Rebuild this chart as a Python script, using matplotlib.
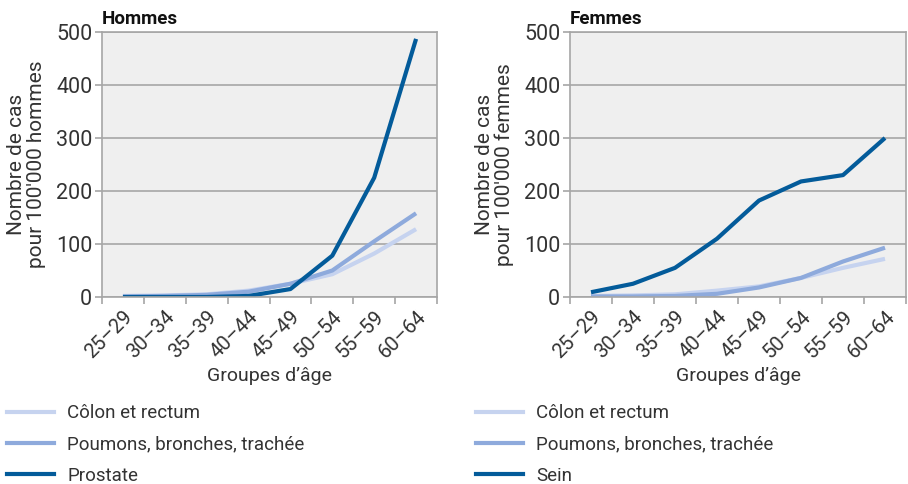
import matplotlib
matplotlib.use("Agg")
import matplotlib.pyplot as plt
from matplotlib.lines import Line2D
import numpy as np

plt.rcParams['font.family'] = ['Roboto', 'DejaVu Sans']

age_groups = ["25–29", "30–34", "35–39", "40–44", "45–49", "50–54", "55–59", "60–64"]

# Hommes
hommes_colon = [2, 3, 5, 12, 25, 43, 82, 128]
hommes_poumons = [1, 2, 4, 10, 25, 50, 105, 158]
hommes_prostate = [0, 0, 0, 2, 15, 78, 225, 487]

# Femmes
femmes_colon = [2, 3, 5, 12, 20, 36, 55, 72]
femmes_poumons = [1, 1, 2, 6, 18, 36, 67, 93]
femmes_sein = [9, 25, 55, 110, 182, 218, 230, 300]

c_colon = "#c6d3ef"
c_poumons = "#8eaadc"
c_main = "#035b9a"
grid_c = "#a6a6a6"
bg_c = "#efefef"
text_c = "#333333"

fig = plt.figure(figsize=(9.08, 4.84), dpi=100)

panels = [
    dict(rect=[102/908, 187/484, 335/908, 265/484], title="Hommes",
         ylabel="Nombre de cas\npour 100'000 hommes",
         series=[(hommes_colon, c_colon, "Côlon et rectum"),
                 (hommes_poumons, c_poumons, "Poumons, bronches, trachée"),
                 (hommes_prostate, c_main, "Prostate")],
         leg_x=7/908),
    dict(rect=[570/908, 187/484, 336/908, 265/484], title="Femmes",
         ylabel="Nombre de cas\npour 100'000 femmes",
         series=[(femmes_colon, c_colon, "Côlon et rectum"),
                 (femmes_poumons, c_poumons, "Poumons, bronches, trachée"),
                 (femmes_sein, c_main, "Sein")],
         leg_x=476/908),
]

x = np.arange(len(age_groups))
for p in panels:
    ax = fig.add_axes(p["rect"])
    ax.set_facecolor(bg_c)
    for vals, col, lab in p["series"]:
        ax.plot(x, vals, color=col, lw=3.0, solid_capstyle="butt",
                solid_joinstyle="round", label=lab)
    ax.set_xlim(-0.5, len(age_groups) - 0.5)
    ax.set_ylim(0, 500)
    ax.set_yticks([0, 100, 200, 300, 400, 500])
    ax.yaxis.grid(True, color=grid_c, lw=1.2)
    ax.set_axisbelow(True)
    ax.set_xticks(x)
    ax.set_xticklabels(age_groups, rotation=45, ha="right", va="top",
                       rotation_mode="anchor", fontsize=14.5, color=text_c)
    ax.set_xticks(np.arange(-0.5, len(age_groups)), minor=True)
    ax.tick_params(axis="x", which="major", length=0, pad=7)
    ax.tick_params(axis="x", which="minor", length=5, color=grid_c, width=1.2)
    ax.tick_params(axis="y", length=5, color=grid_c, width=1.2, labelsize=15.5,
                   labelcolor=text_c, pad=2)
    for s in ax.spines.values():
        s.set_color(grid_c)
        s.set_linewidth(1.2)
    ax.set_ylabel(p["ylabel"], fontsize=15, color=text_c, labelpad=7,
                  linespacing=1.05)
    ax.set_xlabel("Groupes d’âge", fontsize=14, color=text_c, labelpad=4)
    ax.set_title(p["title"], loc="left", fontsize=13.5, fontweight="bold",
                 color="#111111", pad=6)

    handles = [Line2D([], [], color=col, lw=3.0) for _, col, _ in p["series"]]
    labels = [lab for _, _, lab in p["series"]]
    fig.legend(handles, labels, loc="upper left",
               bbox_to_anchor=(p["leg_x"] - 6/908, 0.176),
               bbox_transform=fig.transFigure, frameon=False,
               fontsize=13.5, handlelength=2.55, handletextpad=0.68,
               labelspacing=0.7, borderaxespad=0, borderpad=0.3,
               labelcolor=text_c)

fig.savefig("out.png", dpi=100)
